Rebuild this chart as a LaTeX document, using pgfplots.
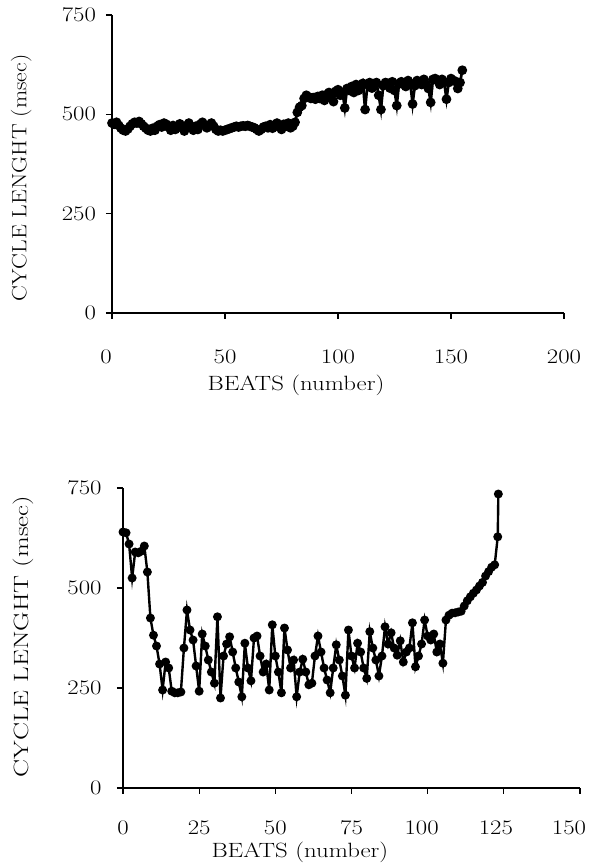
\documentclass[border=0pt]{standalone}
\usepackage{graphicx}
\usepackage{pgfplots}
\pgfplotsset{compat=1.18}
\newcommand{\sx}[1]{\scalebox{1.2}[1]{#1}}
\newcommand{\sxl}[2]{\hspace*{-#2}\sx{#1}\hspace*{#2}}
\begin{document}
\begin{tikzpicture}
\path[use as bounding box] (0,0) rectangle (444pt,647.25pt);
\pgfplotsset{
  myax/.style={
    scale only axis,
    axis lines=left,
    x axis line style={-},
    y axis line style={-},
    tick align=outside,
    major tick length=4.5pt,
    tick style={line width=0.8pt, black},
    axis line style={line width=0.8pt},
    ymin=0, ymax=750,
    ytick={0,250,500,750},
    yticklabels={\sx{0},\sx{250},\sx{500},\sx{750}},
    enlargelimits=false,
    clip=false,
    tick label style={font=\fontsize{15.5}{18}\selectfont},
    label style={font=\fontsize{15.5}{18}\selectfont},
    xlabel={\sx{BEATS (number)}},
  }
}
\begin{axis}[myax,
  at={(84pt,412.5pt)}, anchor=south west,
  width=339pt, height=223.5pt,
  xmin=0, xmax=200, xtick={0,50,100,150,200},
  xticklabels={\sxl{0}{4.5pt},\sx{50},\sx{100},\sx{150},\sx{200}},
  xticklabel style={anchor=center, yshift=-28.5pt},
  yticklabel style={xshift=-4pt},
  xlabel style={at={(axis description cs:0.407,0)}, anchor=center, yshift=-54pt},
  ylabel={\scalebox{1.14}[1]{CYCLE LENGHT (msec)}},
  ylabel style={at={(axis description cs:-0.201,0.453)}, anchor=center},
]
\addplot[black, line width=2pt, mark=*, mark size=2.6pt] coordinates {
(0,478)(1,475)(2,480)(3,472)(4,465)(5,460)(6,458)(7,463)(8,470)(9,476)(10,480)(11,478)(12,482)(13,476)(14,470)(15,465)(16,460)(17,458)(18,465)(19,460)(20,470)(21,474)(22,468)(23,478)(24,475)(25,468)(26,460)(27,472)(28,462)(29,470)(30,476)(31,466)(32,458)(33,472)(34,478)(35,468)(36,460)(37,470)(38,462)(39,475)(40,480)(41,474)(42,466)(43,472)(44,478)(45,470)(46,462)(47,458)(48,460)(49,458)(50,460)(51,462)(52,464)(53,466)(54,468)(55,470)(56,468)(57,470)(58,471)(59,470)(60,472)(61,470)(62,468)(63,466)(64,462)(65,458)(66,462)(67,468)(68,470)(69,466)(70,474)(71,465)(72,472)(73,478)(74,468)(75,462)(76,475)(77,470)(78,478)(79,466)(80,470)(81,480)(82,505)(83,518)(84,522)(85,540)(86,548)(87,544)(88,540)(89,542)(90,538)(91,545)(92,540)(93,548)(94,535)(95,550)(96,555)(97,546)(98,532)(99,558)(100,562)(101,548)(102,555)(103,516)(104,565)(105,560)(106,570)(107,555)(108,575)(109,560)(110,565)(111,578)(112,512)(113,575)(114,580)(115,566)(116,570)(117,580)(118,548)(119,512)(120,572)(121,580)(122,578)(123,566)(124,582)(125,560)(126,522)(127,578)(128,582)(129,575)(130,570)(131,585)(132,578)(133,526)(134,572)(135,585)(136,580)(137,575)(138,588)(139,576)(140,565)(141,530)(142,588)(143,590)(144,585)(145,575)(146,588)(147,580)(148,538)(149,580)(150,590)(151,585)(152,583)(153,565)(154,580)(155,611)
};
\end{axis}
\begin{axis}[myax,
  at={(92.25pt,56.25pt)}, anchor=south west,
  width=342.75pt, height=225pt,
  xmin=0, xmax=150, xtick={0,25,50,75,100,125,150},
  xticklabels={\sx{0},\sx{25},\sx{50},\sx{75},\sxl{100}{4.5pt},\sxl{125}{6pt},\sxl{150}{8.25pt}},
  xticklabel style={anchor=center, yshift=-25.5pt},
  yticklabel style={xshift=-8pt},
  xlabel style={at={(axis description cs:0.387,0)}, anchor=center, yshift=-48.5pt},
  ylabel={\scalebox{1.3}[1]{CYCLE LENGHT (msec)}},
  ylabel style={at={(axis description cs:-0.219,0.505)}, anchor=center},
]
\addplot[black, line width=1.8pt, mark=*, mark size=2.4pt] coordinates {
(0,640)(1,638)(2,610)(3,525)(4,590)(5,588)(6,592)(7,605)(8,540)(9,425)(10,382)(11,355)(12,310)(13,245)(14,315)(15,300)(16,242)(17,238)(18,238)(19,240)(20,350)(21,445)(22,395)(23,370)(24,305)(25,242)(26,385)(27,355)(28,320)(29,290)(30,262)(31,428)(32,225)(33,330)(34,360)(35,378)(36,340)(37,300)(38,265)(39,228)(40,362)(41,300)(42,268)(43,375)(44,380)(45,330)(46,290)(47,310)(48,245)(49,408)(50,330)(51,290)(52,238)(53,400)(54,345)(55,300)(56,320)(57,228)(58,290)(59,322)(60,290)(61,258)(62,262)(63,330)(64,380)(65,340)(66,300)(67,270)(68,238)(69,300)(70,358)(71,320)(72,280)(73,232)(74,395)(75,330)(76,300)(77,362)(78,340)(79,300)(80,274)(81,391)(82,350)(83,320)(84,280)(85,330)(86,403)(87,360)(88,388)(89,350)(90,332)(91,368)(92,315)(93,340)(94,350)(95,413)(96,303)(97,330)(98,360)(99,420)(100,380)(101,370)(102,385)(103,340)(104,360)(105,312)(106,420)(107,432)(108,437)(109,438)(110,440)(111,442)(112,455)(113,468)(114,478)(115,487)(116,495)(117,505)(118,514)(119,530)(120,541)(121,552)(122,558)(123,628)(123.2,735)
};
\end{axis}
\end{tikzpicture}
\end{document}
